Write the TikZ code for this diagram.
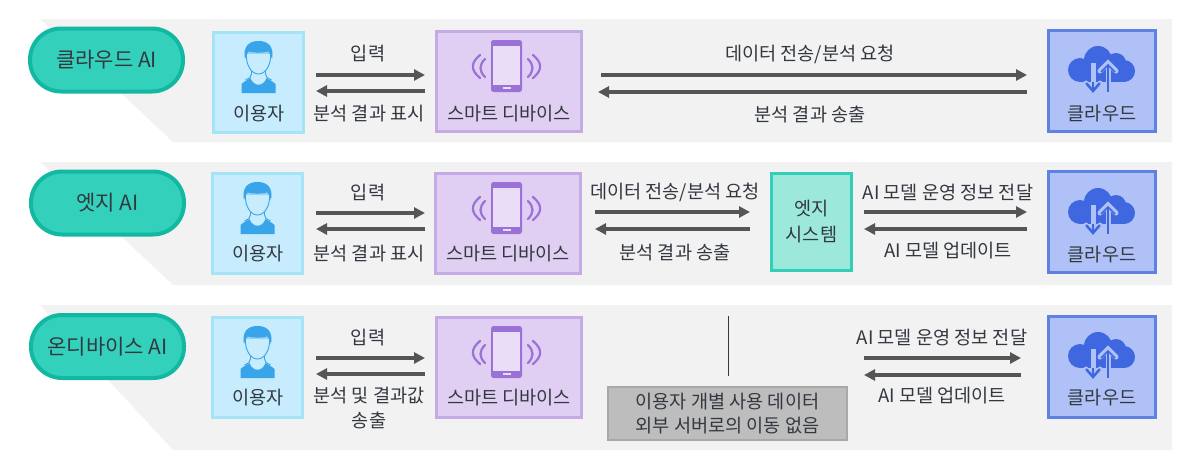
\documentclass[tikz,border=0pt]{standalone}
\usepackage{fontspec}
\setmainfont{Noto Sans CJK KR}
\usetikzlibrary{calc,arrows.meta}
\definecolor{band}{HTML}{F2F2F2}
\definecolor{pillf}{HTML}{33D1BC}
\definecolor{pilld}{HTML}{12B8A2}
\definecolor{txt}{HTML}{333840}
\definecolor{ublue}{HTML}{C6ECFD}
\definecolor{ubord}{HTML}{A5E3F7}
\definecolor{uicon}{HTML}{38A4EA}
\definecolor{vfill}{HTML}{E0CFF3}
\definecolor{vbord}{HTML}{C5ABE6}
\definecolor{vicon}{HTML}{9A72D6}
\definecolor{cfill}{HTML}{AFC1F6}
\definecolor{cbord}{HTML}{5F82E2}
\definecolor{cicon}{HTML}{3F68E0}
\definecolor{efill}{HTML}{9CE9DC}
\definecolor{ebord}{HTML}{33CDB8}
\definecolor{gfill}{HTML}{BDBDBD}
\definecolor{gbord}{HTML}{A8A8A8}
\definecolor{arrc}{HTML}{555555}
\tikzset{
  pillbox/.style={draw=pilld,fill=pillf,line width=4pt,rounded corners=31pt,minimum width=153pt,minimum height=63pt,inner sep=0pt,text=txt,font=\fontsize{21}{24}\selectfont},
  userbox/.style={draw=ubord,fill=ublue,line width=3pt,minimum width=90pt,minimum height=100pt},
  devbox/.style={draw=vbord,fill=vfill,line width=3pt,minimum width=145pt,minimum height=100pt},
  cloudbox/.style={draw=cbord,fill=cfill,line width=3pt,minimum width=107pt,minimum height=101pt},
  edgebox/.style={draw=ebord,fill=efill,line width=3pt,minimum width=80pt,minimum height=97pt,text=txt,align=center,font=\fontsize{18.6}{26}\selectfont},
  graybox/.style={draw=gbord,fill=gfill,line width=2pt,minimum width=239pt,minimum height=53pt,text=txt,align=center,font=\fontsize{18.6}{24}\selectfont},
  lbl/.style={text=txt,inner sep=0pt,align=center,font=\fontsize{18.6}{25}\selectfont},
  arr/.style={draw=arrc,line width=3.5pt,-{Triangle[length=11pt,width=11pt]}},
  bandshape/.style={fill=band},
  thinline/.style={draw=txt,line width=1pt}
}
\newcommand{\usericon}[2]{\begin{scope}[shift={(#1,#2)}]
  \fill[uicon] (-17,52) -- (-17,43) .. controls (-15,41) and (-11,39) .. (-8,37) .. controls (-5,46) and (5,46) .. (8,37) .. controls (11,39) and (15,41) .. (17,43) -- (17,52) -- cycle;
  \draw[uicon,line width=.9pt] (-7,27) -- (-7,33) .. controls (-7,36) and (-9,37) .. (-13,39);
  \draw[uicon,line width=.9pt] (7,27) -- (7,33) .. controls (7,36) and (9,37) .. (13,39);
  \filldraw[fill=ublue,draw=uicon,line width=.9pt] (-12,12) .. controls (-13,24) and (-7,33) .. (0,33) .. controls (7,33) and (13,24) .. (12,12) -- cycle;
  \fill[uicon] (-13.5,18) .. controls (-16,5) and (-9,0) .. (0,0) .. controls (9,0) and (16,5) .. (13.5,18) .. controls (12.5,15) and (12,13) .. (10,10.5) .. controls (4,12) and (-4,12) .. (-10,10.5) .. controls (-12,13) and (-12.5,15) .. (-13.5,18) -- cycle;
\end{scope}}
\newcommand{\phoneicon}[2]{\begin{scope}[shift={(#1,#2)}]
  \fill[vicon,rounded corners=2.5pt] (-15.5,-27) rectangle (15.5,25);
  \fill[vfill!70!white] (-13.5,-21) rectangle (13.5,18);
  \fill[vfill!70!white] (-4,20) rectangle (4,22);
  \draw[vicon,line width=2.2pt,line cap=round] (-21.5,-8) .. controls (-27.5,-2) and (-27.5,4) .. (-21.5,10);
  \draw[vicon,line width=2.2pt,line cap=round] (-26.5,-12) .. controls (-36,-4) and (-36,3) .. (-26.5,11);
  \draw[vicon,line width=2.2pt,line cap=round] (21.5,-8) .. controls (27.5,-2) and (27.5,4) .. (21.5,10);
  \draw[vicon,line width=2.2pt,line cap=round] (26.5,-12) .. controls (36,-4) and (36,3) .. (26.5,11);
\end{scope}}
\newcommand{\cloudicon}[2]{\begin{scope}[shift={(#1,#2)}]
  \fill[cicon] (-22,25) circle (12);
  \fill[cicon] (-4,15) circle (14);
  \fill[cicon] (14,18) circle (10);
  \fill[cicon] (22,26) circle (11);
  \fill[cicon] (-22,20) rectangle (22,37);
  \draw[cfill,line width=5pt] (-9,18) -- (-9,46);
  \draw[cfill,line width=5pt,line cap=round] (-16,38) -- (-9,46) -- (-2,38);
  \draw[cicon,line width=2.5pt] (-9,37) -- (-9,46);
  \draw[cicon,line width=2.5pt,line cap=round] (-15.5,38.5) -- (-9,46) -- (-2.5,38.5);
  \draw[cfill,line width=5pt] (6,18) -- (6,47);
  \draw[cfill,line width=5pt,line cap=round] (-2,26) -- (6,18) -- (14,26);
  \draw[cicon,line width=2pt] (6,20) -- (6,47);
  \draw[cicon,line width=1.5pt] (-1,27) -- (6,20) -- (13,27);
\end{scope}}
\begin{document}
\begin{tikzpicture}[x=1pt,y=-1pt]
\useasboundingbox (0,0) rectangle (1200,474);
% bands
\fill[bandshape] (40,19) -- (1172,19) -- (1172,142) -- (173,142) -- (122,94) -- cycle;
\fill[bandshape] (40,162) -- (1172,162) -- (1172,285) -- (173,285) -- (122,237) -- cycle;
\fill[bandshape] (40,305) -- (1172,305) -- (1172,450) -- (173,450) -- (110,382) -- cycle;
% pills
\node[pillbox] (p1) at (106.5,60) {클라우드 AI};
\node[pillbox] (p2) at (107.5,203) {엣지 AI};
\node[pillbox] (p3) at (107.5,346.5) {온디바이스 AI};
% row 1
\node[userbox] (u1) at (258.5,82) {};
\node[devbox] (d1) at (509,81.5) {};
\node[cloudbox] (c1) at (1102,80.5) {};
\usericon{258.5}{41}
\phoneicon{506.5}{67}
\cloudicon{1102}{45}
\node[lbl] (tu1) at (259,114) {이용자};
\node[lbl] (td1) at (509,114) {스마트 디바이스};
\node[lbl] (tc1) at (1102,114) {클라우드};
\node[lbl] (a1) at (368,54) {입력};
\node[lbl] (b1) at (369,114) {분석 결과 표시};
\node[lbl] (f1) at (810,54) {데이터 전송/분석 요청};
\node[lbl] (g1) at (810,114) {분석 결과 송출};
\draw[arr] ($(u1.east)+(11,-7)$) -- ($(d1.west)+(-10,-6.5)$);
\draw[arr] ($(d1.west)+(-10,9.5)$) -- ($(u1.east)+(11,9)$);
\draw[arr] ($(d1.east)+(18,-6.5)$) -- ($(c1.west)+(-20,-5.5)$);
\draw[arr] ($(c1.west)+(-20,11.5)$) -- ($(d1.east)+(15,10.5)$);
% row 2
\node[userbox] (u2) at (257.5,223) {};
\node[devbox] (d2) at (508,223) {};
\node[edgebox] (e2) at (811.5,222) {엣지\\시스템};
\node[cloudbox] (c2) at (1102,222) {};
\usericon{257.5}{182}
\phoneicon{506.5}{209}
\cloudicon{1102}{187}
\node[lbl] (tu2) at (258,254) {이용자};
\node[lbl] (td2) at (508,254) {스마트 디바이스};
\node[lbl] (tc2) at (1102,255) {클라우드};
\node[lbl] (a2) at (368,193) {입력};
\node[lbl] (b2) at (369,254) {분석 결과 표시};
\node[lbl] (f2) at (675,192) {데이터 전송/분석 요청};
\node[lbl] (g2) at (675,252) {분석 결과 송출};
\node[lbl] (h2) at (948,193) {AI 모델 운영 정보 전달};
\node[lbl] (i2) at (948,251) {AI 모델 업데이트};
\draw[arr] ($(u2.east)+(12,-10)$) -- ($(d2.west)+(-9,-10)$);
\draw[arr] ($(d2.west)+(-9,6)$) -- ($(u2.east)+(12,6)$);
\draw[arr] ($(d2.east)+(13,-11)$) -- ($(e2.west)+(-20,-10)$);
\draw[arr] ($(e2.west)+(-20,7)$) -- ($(d2.east)+(13,6)$);
\draw[arr] ($(e2.east)+(11,-10)$) -- ($(c2.west)+(-20,-10)$);
\draw[arr] ($(c2.west)+(-20,7)$) -- ($(e2.east)+(11,7)$);
% row 3
\node[userbox] (u3) at (257.5,367) {};
\node[devbox] (d3) at (509,367) {};
\node[cloudbox] (c3) at (1102,366.5) {};
\node[graybox] (g3) at (727.5,413.5) {이용자 개별 사용 데이터\\외부 서버로의 이동 없음};
\usericon{257.5}{326}
\phoneicon{506.5}{353}
\cloudicon{1102}{331}
\node[lbl] (tu3) at (258,398) {이용자};
\node[lbl] (td3) at (509,398) {스마트 디바이스};
\node[lbl] (tc3) at (1102,398) {클라우드};
\node[lbl] (a3) at (368,338) {입력};
\node[lbl] (b3) at (369,408.5) {분석 및 결과값\\송출};
\node[lbl] (h3) at (942,338) {AI 모델 운영 정보 전달};
\node[lbl] (i3) at (942,396) {AI 모델 업데이트};
\draw[arr] ($(u3.east)+(12,-9)$) -- ($(d3.west)+(-10,-9)$);
\draw[arr] ($(d3.west)+(-10,7)$) -- ($(u3.east)+(12,7)$);
\draw[arr] ($(g3.east)+(16,-55.5)$) -- ($(c3.west)+(-26,-8.5)$);
\draw[arr] ($(c3.west)+(-26,8.5)$) -- ($(g3.east)+(16,-38.5)$);
\draw[thinline] ($(g3.north)+(0.5,-10)$) -- ($(g3.north)+(0.5,-70)$);
\end{tikzpicture}
\end{document}
